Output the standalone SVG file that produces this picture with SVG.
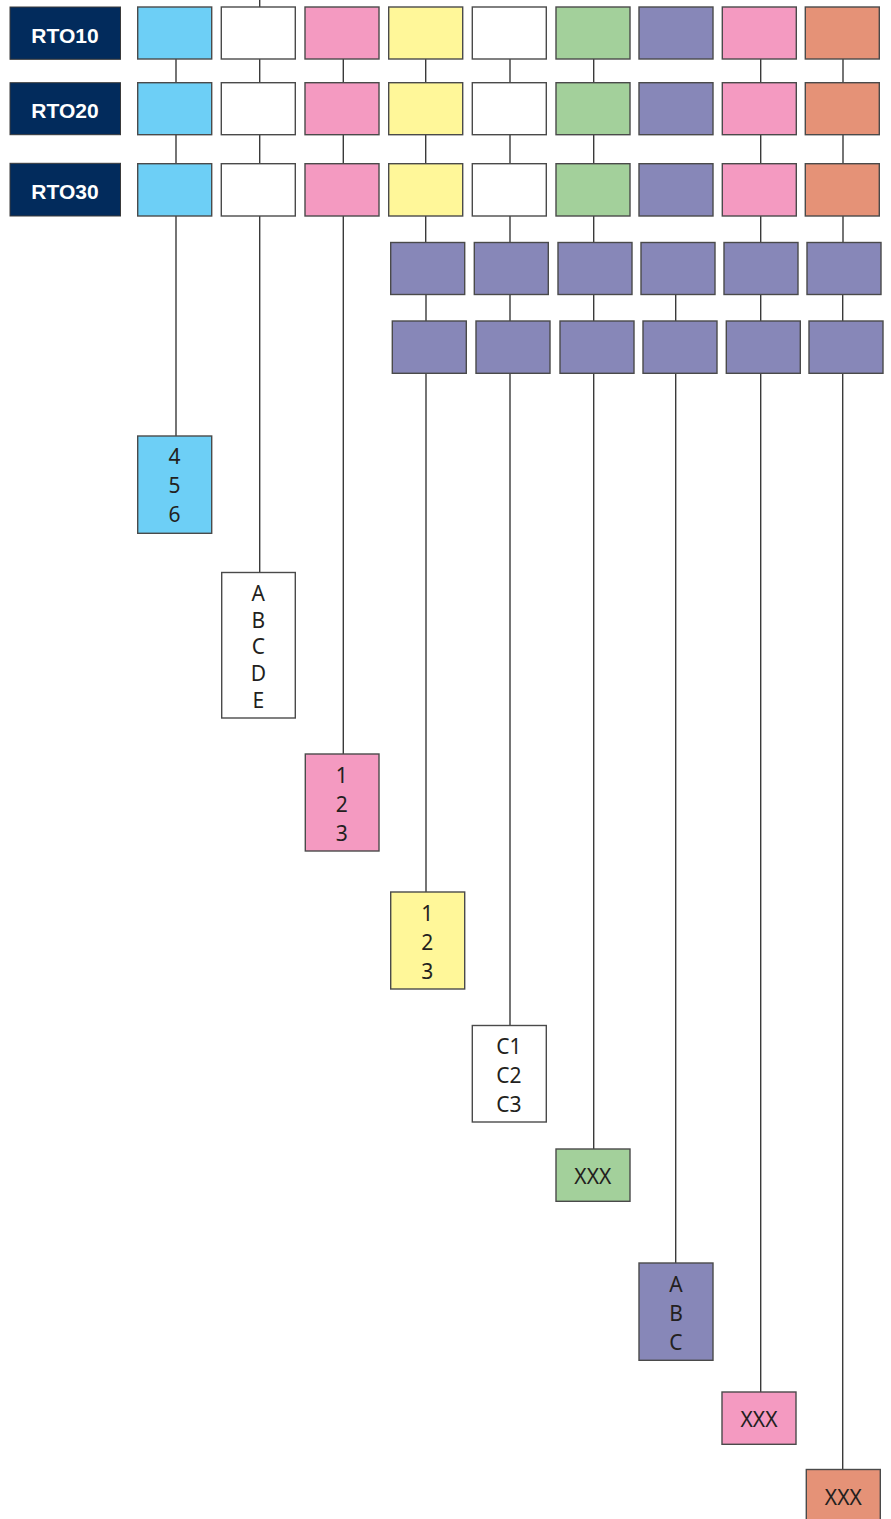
<svg xmlns="http://www.w3.org/2000/svg" width="891" height="1519" viewBox="0 0 891 1519">
<style>
.bg{fill:#ffffff}
.box{stroke:#4a4a4a;stroke-width:1.4}
.rto{fill:#022b5c;stroke:#3a3a3a;stroke-width:1}
.cy{fill:#6dcff6}.wh{fill:#ffffff}.pk{fill:#f49ac1}.ye{fill:#fff799}.gr{fill:#a3d09b}.pu{fill:#8787b8}.or{fill:#e59277}
.con line{stroke:#3a3a3a;stroke-width:1.4}
.rt{font-family:"Liberation Sans",Arial,sans-serif;font-weight:bold;font-size:21px;fill:#ffffff;text-anchor:middle}
.lb{font-family:"Noto Sans","Open Sans",sans-serif;font-size:21px;fill:#231f20;text-anchor:middle}
</style>
<rect class="bg" x="0" y="0" width="891" height="1519"/>
<g id="connectors" class="con">
<line x1="259.7" y1="0" x2="259.7" y2="7"/>
<line x1="176" y1="59" x2="176" y2="83"/>
<line x1="259.7" y1="59" x2="259.7" y2="83"/>
<line x1="343.3" y1="59" x2="343.3" y2="83"/>
<line x1="425.7" y1="59" x2="425.7" y2="83"/>
<line x1="510" y1="59" x2="510" y2="83"/>
<line x1="593.7" y1="59" x2="593.7" y2="83"/>
<line x1="760.7" y1="59" x2="760.7" y2="83"/>
<line x1="843" y1="59" x2="843" y2="83"/>
<line x1="176" y1="135" x2="176" y2="164"/>
<line x1="259.7" y1="135" x2="259.7" y2="164"/>
<line x1="343.3" y1="135" x2="343.3" y2="164"/>
<line x1="425.7" y1="135" x2="425.7" y2="164"/>
<line x1="510" y1="135" x2="510" y2="164"/>
<line x1="593.7" y1="135" x2="593.7" y2="164"/>
<line x1="760.7" y1="135" x2="760.7" y2="164"/>
<line x1="843" y1="135" x2="843" y2="164"/>
<line x1="176" y1="216" x2="176" y2="436"/>
<line x1="259.7" y1="216" x2="259.7" y2="572.5"/>
<line x1="343.3" y1="216" x2="343.3" y2="754"/>
<line x1="425.7" y1="216" x2="425.7" y2="242.5"/>
<line x1="510" y1="216" x2="510" y2="242.5"/>
<line x1="593.7" y1="216" x2="593.7" y2="242.5"/>
<line x1="760.7" y1="216" x2="760.7" y2="242.5"/>
<line x1="843" y1="216" x2="843" y2="242.5"/>
<line x1="426" y1="294.5" x2="426" y2="321"/>
<line x1="510" y1="294.5" x2="510" y2="321"/>
<line x1="593.7" y1="294.5" x2="593.7" y2="321"/>
<line x1="675.7" y1="294.5" x2="675.7" y2="321"/>
<line x1="760.7" y1="294.5" x2="760.7" y2="321"/>
<line x1="842.7" y1="294.5" x2="842.7" y2="321"/>
<line x1="426" y1="373" x2="426" y2="892"/>
<line x1="510" y1="373" x2="510" y2="1025.5"/>
<line x1="593.7" y1="373" x2="593.7" y2="1149"/>
<line x1="675.7" y1="373" x2="675.7" y2="1263"/>
<line x1="760.7" y1="373" x2="760.7" y2="1392"/>
<line x1="842.7" y1="373" x2="842.7" y2="1469.5"/>
</g>
<g id="rto10"><rect class="rto" x="10" y="7" width="110.5" height="52.3"/><text class="rt" x="65" y="42.7">RTO10</text></g>
<g id="rto20"><rect class="rto" x="10" y="82.7" width="110.5" height="52"/><text class="rt" x="65" y="118.3">RTO20</text></g>
<g id="rto30"><rect class="rto" x="10" y="163.3" width="110.5" height="52.7"/><text class="rt" x="65" y="199.3">RTO30</text></g>
<g id="row1">
<rect id="r1c1" class="box cy" x="137.7" y="7" width="74" height="52"/>
<rect id="r1c2" class="box wh" x="221.3" y="7" width="74" height="52"/>
<rect id="r1c3" class="box pk" x="305" y="7" width="74" height="52"/>
<rect id="r1c4" class="box ye" x="388.7" y="7" width="74" height="52"/>
<rect id="r1c5" class="box wh" x="472.3" y="7" width="74" height="52"/>
<rect id="r1c6" class="box gr" x="556" y="7" width="74" height="52"/>
<rect id="r1c7" class="box pu" x="639" y="7" width="74" height="52"/>
<rect id="r1c8" class="box pk" x="722.3" y="7" width="74" height="52"/>
<rect id="r1c9" class="box or" x="805.3" y="7" width="74" height="52"/>
</g>
<g id="row2">
<rect id="r2c1" class="box cy" x="137.7" y="82.7" width="74" height="52"/>
<rect id="r2c2" class="box wh" x="221.3" y="82.7" width="74" height="52"/>
<rect id="r2c3" class="box pk" x="305" y="82.7" width="74" height="52"/>
<rect id="r2c4" class="box ye" x="388.7" y="82.7" width="74" height="52"/>
<rect id="r2c5" class="box wh" x="472.3" y="82.7" width="74" height="52"/>
<rect id="r2c6" class="box gr" x="556" y="82.7" width="74" height="52"/>
<rect id="r2c7" class="box pu" x="639" y="82.7" width="74" height="52"/>
<rect id="r2c8" class="box pk" x="722.3" y="82.7" width="74" height="52"/>
<rect id="r2c9" class="box or" x="805.3" y="82.7" width="74" height="52"/>
</g>
<g id="row3">
<rect id="r3c1" class="box cy" x="137.7" y="163.7" width="74" height="52.3"/>
<rect id="r3c2" class="box wh" x="221.3" y="163.7" width="74" height="52.3"/>
<rect id="r3c3" class="box pk" x="305" y="163.7" width="74" height="52.3"/>
<rect id="r3c4" class="box ye" x="388.7" y="163.7" width="74" height="52.3"/>
<rect id="r3c5" class="box wh" x="472.3" y="163.7" width="74" height="52.3"/>
<rect id="r3c6" class="box gr" x="556" y="163.7" width="74" height="52.3"/>
<rect id="r3c7" class="box pu" x="639" y="163.7" width="74" height="52.3"/>
<rect id="r3c8" class="box pk" x="722.3" y="163.7" width="74" height="52.3"/>
<rect id="r3c9" class="box or" x="805.3" y="163.7" width="74" height="52.3"/>
</g>
<g id="row4">
<rect id="r4c4" class="box pu" x="390.7" y="242.5" width="74" height="52"/>
<rect id="r4c5" class="box pu" x="474.3" y="242.5" width="74" height="52"/>
<rect id="r4c6" class="box pu" x="558" y="242.5" width="74" height="52"/>
<rect id="r4c7" class="box pu" x="641" y="242.5" width="74" height="52"/>
<rect id="r4c8" class="box pu" x="724" y="242.5" width="74" height="52"/>
<rect id="r4c9" class="box pu" x="807" y="242.5" width="74" height="52"/>
</g>
<g id="row5">
<rect id="r5c4" class="box pu" x="392.3" y="321" width="74" height="52.3"/>
<rect id="r5c5" class="box pu" x="476" y="321" width="74" height="52.3"/>
<rect id="r5c6" class="box pu" x="560" y="321" width="74" height="52.3"/>
<rect id="r5c7" class="box pu" x="643" y="321" width="74" height="52.3"/>
<rect id="r5c8" class="box pu" x="726.3" y="321" width="74" height="52.3"/>
<rect id="r5c9" class="box pu" x="809" y="321" width="74" height="52.3"/>
</g>
<g id="leaf1"><rect class="box cy" x="137.7" y="436" width="74" height="97.3"/>
<text class="lb" x="174.5" y="464.3">4</text><text class="lb" x="174.5" y="493.3">5</text><text class="lb" x="174.5" y="522">6</text></g>
<g id="leaf2"><rect class="box wh" x="221.7" y="572.5" width="73.6" height="145.5"/>
<text class="lb" x="258.3" y="601">A</text><text class="lb" x="258.3" y="627.7">B</text><text class="lb" x="258.3" y="654.3">C</text><text class="lb" x="258.3" y="681">D</text><text class="lb" x="258.3" y="707.7">E</text></g>
<g id="leaf3"><rect class="box pk" x="305.3" y="754" width="73.7" height="97"/>
<text class="lb" x="341.7" y="782.7">1</text><text class="lb" x="341.7" y="811.7">2</text><text class="lb" x="341.7" y="840.7">3</text></g>
<g id="leaf4"><rect class="box ye" x="390.7" y="892" width="74" height="97"/>
<text class="lb" x="427.3" y="921">1</text><text class="lb" x="427.3" y="950">2</text><text class="lb" x="427.3" y="979">3</text></g>
<g id="leaf5"><rect class="box wh" x="472.3" y="1025.5" width="74" height="96.5"/>
<text class="lb" x="508.8" y="1054.3">C1</text><text class="lb" x="508.8" y="1083.3">C2</text><text class="lb" x="508.8" y="1112">C3</text></g>
<g id="leaf6"><rect class="box gr" x="556" y="1149" width="74" height="52.3"/>
<text class="lb" x="592.8" y="1184.3">XXX</text></g>
<g id="leaf7"><rect class="box pu" x="639" y="1263" width="74" height="97.3"/>
<text class="lb" x="676" y="1292">A</text><text class="lb" x="676" y="1321">B</text><text class="lb" x="676" y="1350">C</text></g>
<g id="leaf8"><rect class="box pk" x="722" y="1392" width="74" height="52.3"/>
<text class="lb" x="759" y="1427.3">XXX</text></g>
<g id="leaf9"><rect class="box or" x="806.3" y="1469.5" width="74" height="52.5"/>
<text class="lb" x="843.3" y="1505">XXX</text></g>
</svg>
